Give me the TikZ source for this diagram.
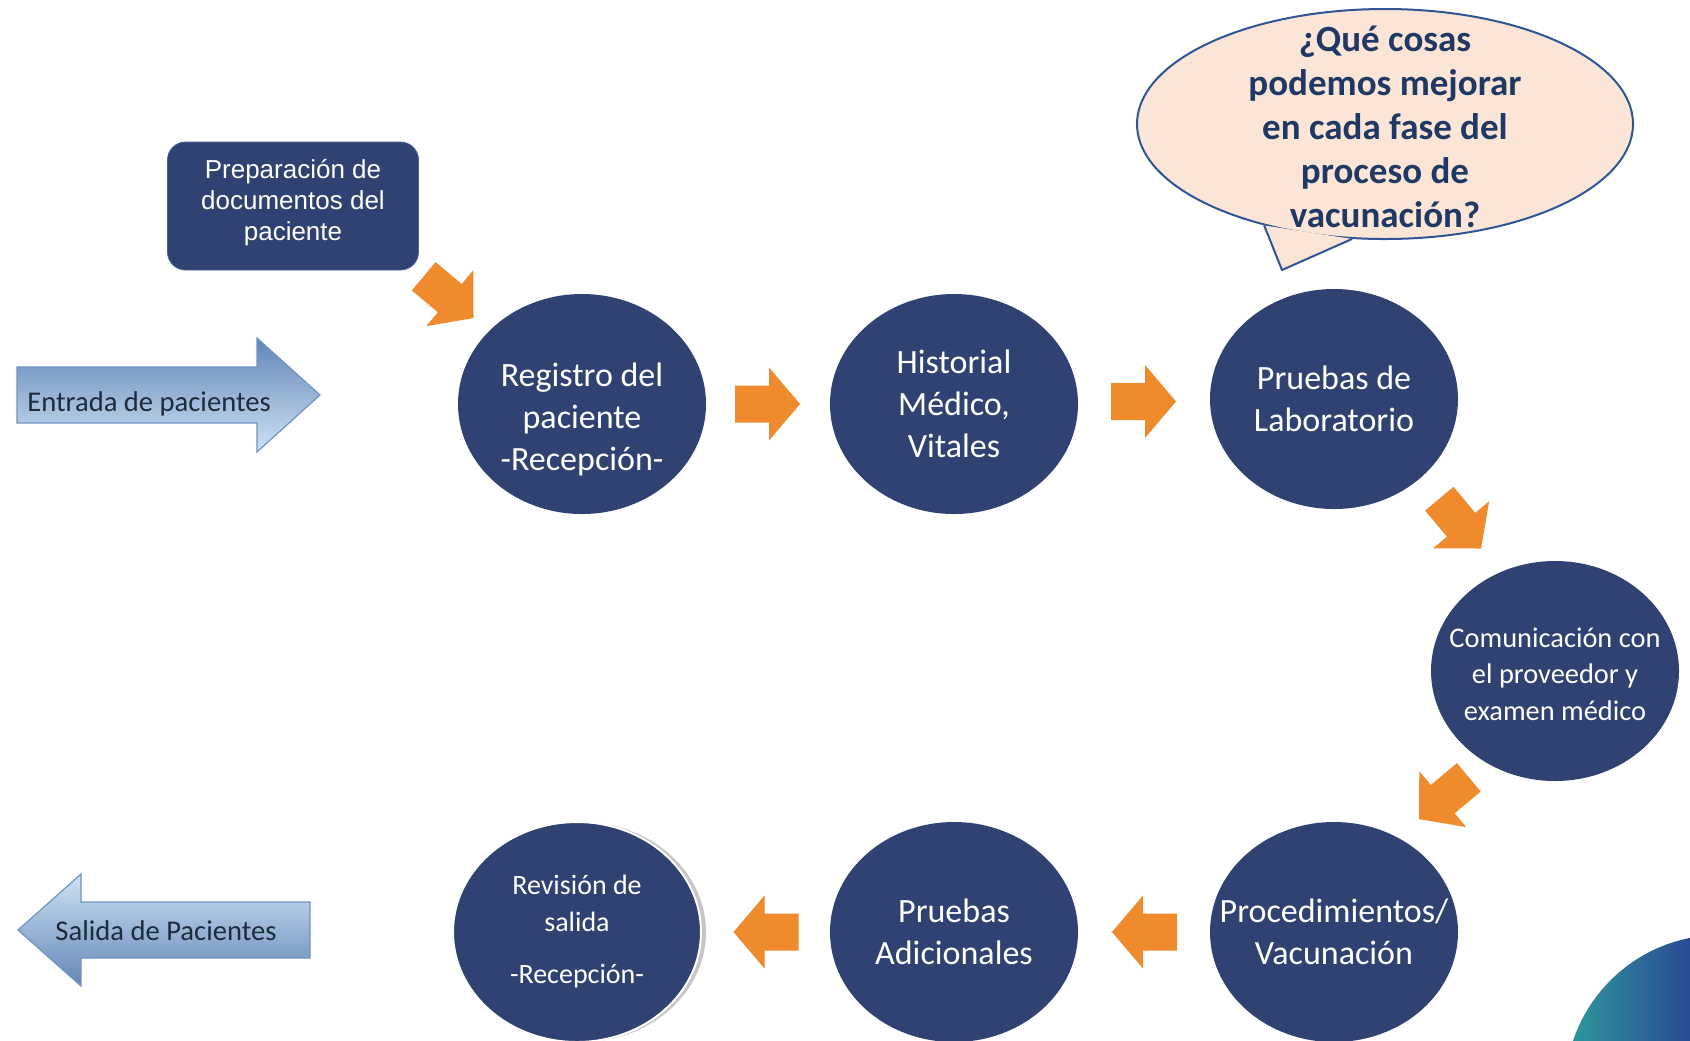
\documentclass[tikz,border=0pt]{standalone}
\usepackage{fontspec}
\setmainfont{Carlito}
\newfontfamily\arialfont{Liberation Sans}
\usetikzlibrary{shapes.geometric,calc}

\definecolor{azul}{HTML}{2F4271}
\definecolor{azulborde}{HTML}{4A6494}
\definecolor{naranja}{HTML}{EF8B2C}
\definecolor{crema}{HTML}{FBE5D6}
\definecolor{bordeglobo}{HTML}{2F5597}
\definecolor{textoglobo}{HTML}{203864}
\definecolor{celesteosc}{HTML}{6186B5}
\definecolor{celeste}{HTML}{CFE2F5}
\definecolor{lineaceleste}{HTML}{6E94C2}
\definecolor{textoflecha}{HTML}{1E2B3C}
\definecolor{verdeazul}{HTML}{2E9E9C}
\definecolor{azulfuerte}{HTML}{2A4A95}

\tikzset{
  fase/.style={ellipse, fill=azul, text=white, align=center, inner sep=-15pt,
    minimum width=124pt, minimum height=110pt, font=\fontsize{17}{21}\selectfont},
  caja/.style={rectangle, rounded corners=9pt, fill=azul, draw=azulborde,
    minimum width=125.5pt, minimum height=64pt},
  bloque/.style={draw=lineaceleste, line width=0.6pt},
  rotulo/.style={text=textoflecha, inner sep=0pt, font=\fontsize{14.3}{17}\selectfont},
  globo/.style={ellipse, fill=crema, draw=bordeglobo, line width=1pt, inner sep=0pt,
    minimum width=248pt, minimum height=115pt},
  pics/flecha/.style={code={
    \fill[naranja] (-33,-18.5) -- (1,-18.5) -- (1,-36.5) -- (32,0)
      -- (1,36.5) -- (1,18.5) -- (-33,18.5) -- cycle;}},
}

\begin{document}
\begin{tikzpicture}[x=0.5pt,y=-0.5pt]
\useasboundingbox (0,0) rectangle (1690,1040);

% entrada y salida
\draw[bloque, top color=celesteosc, bottom color=celeste] (17,367) -- (257,367) -- (257,338)
  -- (320,395) -- (257,452) -- (257,423) -- (17,423) -- cycle;
\node[rotulo, anchor=west] (entrada) at (27,404) {Entrada de pacientes};
\draw[bloque, top color=celeste, bottom color=celesteosc] (310,902) -- (81,902) -- (81,874)
  -- (18,930) -- (81,986) -- (81,958) -- (310,958) -- cycle;
\node[rotulo] (salida) at (166,931) {Salida de Pacientes};

\node[caja, label={[text=white, align=center, yshift=1.5pt,
    font={\arialfont\fontsize{13}{15.5}\selectfont}]center:Preparación de\\documentos del\\paciente}] (prep) at (293,206) {};

% fases
\node[fase, label={[text=white, align=center, font=\fontsize{17}{21}\selectfont, yshift=-7.5pt]center:Registro del\\paciente\\-Recepción-}] (reg) at (582,404) {};
\node[fase] (hist) at (954,404) {Historial\\Médico,\\Vitales};
\node[fase] (lab) at (1334,399) {Pruebas de\\Laboratorio};
\node[fase, label={[text=white, align=center, font=\fontsize{14.2}{18.25}\selectfont, yshift=-1.5pt]center:Comunicación con\\el proveedor y\\examen médico}] (com) at (1555,671) {};
\node[fase] (proc) at (1334,932) {Procedimientos/\\Vacunación};
\node[fase] (adic) at (954,932) {Pruebas\\Adicionales};
\fill[gray!45] (582,932) ellipse [x radius=124, y radius=110];
\node[fase, draw=white, line width=1pt, font=\fontsize{14}{18.5}\selectfont] (rev) at (577,932) {Revisión de\\salida\\[7.5pt]-Recepción-};

% flechas naranjas
\pic[rotate=-40] at ($(prep)!0.5!(reg)+(11.5,-7.5)$) {flecha};
\pic at ($(reg)!0.5!(hist)$) {flecha};
\pic at ($(hist)!0.5!(lab)$) {flecha};
\pic[rotate=-50] at ($(lab)!0.5!(com)+(16,-11)$) {flecha};
\pic[rotate=-140] at ($(com)!0.5!(proc)+(-1,-3)$) {flecha};
\pic[rotate=180] at ($(proc)!0.5!(adic)$) {flecha};
\pic[rotate=180] at ($(adic)!0.5!(rev)$) {flecha};

% bocadillo
\node[globo] (globo) at (1385,124) {};
\fill[crema] (globo.-140) -- (1282,270) -- (globo.-106) -- cycle;
\draw[bordeglobo, line width=1pt, line join=round] (globo.-140) -- (1282,270) -- (globo.-106);
\node[text=textoglobo, align=center, font=\bfseries\fontsize{18.5}{22}\selectfont] (pregunta) at (1385,127)
  {¿Qué cosas\\podemos mejorar\\en cada fase del\\proceso de\\vacunación?};

% esquina
\begin{scope}
  \clip (1720,1090) circle (155);
  \shade[left color=verdeazul, right color=azulfuerte] (1560,925) rectangle (1690,1040);
\end{scope}
\end{tikzpicture}
\end{document}
